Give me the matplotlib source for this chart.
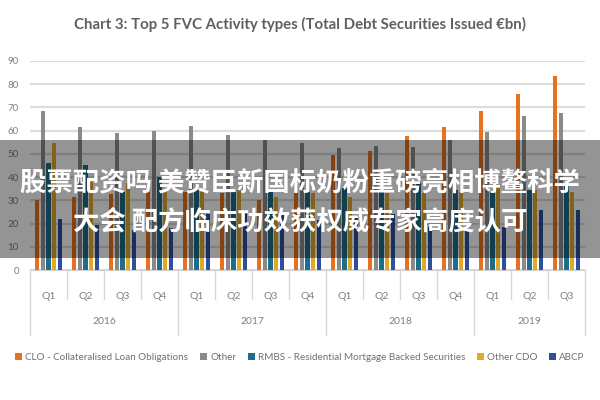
import matplotlib.pyplot as plt
import matplotlib.transforms as mtransforms
from matplotlib.lines import Line2D
from matplotlib.patches import Rectangle
import numpy as np

# Werte (Mrd. EUR)
years = ['2016', '2017', '2018', '2019']
quarters = ['Q1', 'Q2', 'Q3', 'Q4'] * 3 + ['Q1', 'Q2', 'Q3']
series_names = ['CLO - Collateralised Loan Obligations', 'Other',
                'RMBS - Residential Mortgage Backed Securities', 'Other CDO', 'ABCP']
clo = [30.1, 31.5, 32.7, 33.7, 33.7, 33.0, 30.0, 33.7, 49.5, 51.0, 57.6, 61.4, 68.5, 75.7, 83.4]
other = [68.4, 61.4, 59.0, 60.0, 62.0, 58.0, 56.0, 54.8, 52.3, 53.3, 53.0, 56.0, 59.5, 66.2, 67.7]
rmbs = [46.0, 45.2, 33.7, 40.1, 35.0, 33.7, 33.7, 33.7, 35.1, 33.7, 37.3, 34.4, 34.4, 34.4, 36.6]
other_cdo = [54.8, 38.0, 37.3, 34.4, 33.7, 34.4, 31.5, 33.0, 31.5, 33.0, 33.0, 33.7, 35.1, 34.4, 33.7]
abcp = [21.8, 19.5, 17.2, 17.9, 24.0, 25.0, 25.0, 21.5, 23.0, 24.0, 18.6, 17.2, 18.6, 25.8, 25.8]

colors = ['#E8701E', '#8A8A8A', '#1D6E8C', '#E2A826', '#2E509E']
banner_lines = ['股票配资吗 美赞臣新国标奶粉重磅亮相博鳌科学',
                '大会 配方临床功效获权威专家高度认可']

plt.rcParams['font.family'] = ['Lato', 'DejaVu Sans']
fig = plt.figure(figsize=(6, 4), dpi=100)
ax = fig.add_axes([0.05, 0.325, 0.925, 0.523])

x = np.arange(len(quarters))
width = 0.11
step = 0.16
data = [clo, other, rmbs, other_cdo, abcp]
for j, (vals, name, col) in enumerate(zip(data, series_names, colors)):
    ax.bar(x + (j - 2) * step, vals, width, color=col, label=name, zorder=3)

ax.set_xlim(-0.5, len(quarters) - 0.5)
ax.set_ylim(0, 90)
ax.set_yticks(range(0, 91, 10))
ax.yaxis.grid(True, color='#DCDCDC', linewidth=1.6, zorder=0)
ax.tick_params(axis='y', length=0, labelsize=7, labelcolor='#808080', pad=8)
for s in ['top', 'right', 'left']:
    ax.spines[s].set_visible(False)
ax.spines['bottom'].set_color('#D0D0D0')

ax.set_xticks(x)
ax.set_xticklabels(quarters, fontsize=7.5, color='#808080')
ax.tick_params(axis='x', length=0, pad=16)

# Trennlinien fuer Quartale und Jahre
trans = mtransforms.blended_transform_factory(ax.transData, ax.transAxes)
year_starts = [0, 4, 8, 12, len(quarters)]
for b in np.arange(len(quarters) + 1) - 0.5:
    is_year = (b + 0.5) in year_starts
    y_end = -0.31 if is_year else -0.14
    ax.add_line(Line2D([b, b], [0, y_end], transform=trans, color='#D8D8D8',
                       linewidth=1, clip_on=False))
for k, yr in enumerate(years):
    mid = (year_starts[k] + year_starts[k + 1] - 1) / 2
    ax.text(mid, -0.245, yr, transform=trans, ha='center', va='center',
            fontsize=7.5, color='#808080')

fig.text(0.5, 0.94, 'Chart 3: Top 5 FVC Activity types (Total Debt Securities Issued \u20acbn)',
         ha='center', va='center', fontsize=10.8, fontweight='bold', color='#606060')

fig.legend(loc='center', bbox_to_anchor=(0.5, 0.107), ncol=5, frameon=False,
           fontsize=7.1, handlelength=0.7, handleheight=0.7, handletextpad=0.3,
           columnspacing=1.2, labelcolor='#707070')

# Halbtransparentes Banner mit Text
fig.patches.append(Rectangle((0, 0.355), 1, 0.295, transform=fig.transFigure,
                             facecolor='black', alpha=0.42, zorder=10))
for i, line in enumerate(banner_lines):
    fig.text(0.5, 0.543 - i * 0.097, line, ha='center', va='center', color='white',
             fontsize=19, fontweight='bold', zorder=11,
             family=['Noto Sans CJK SC', 'DejaVu Sans'])

fig.savefig('out.png', dpi=100)
